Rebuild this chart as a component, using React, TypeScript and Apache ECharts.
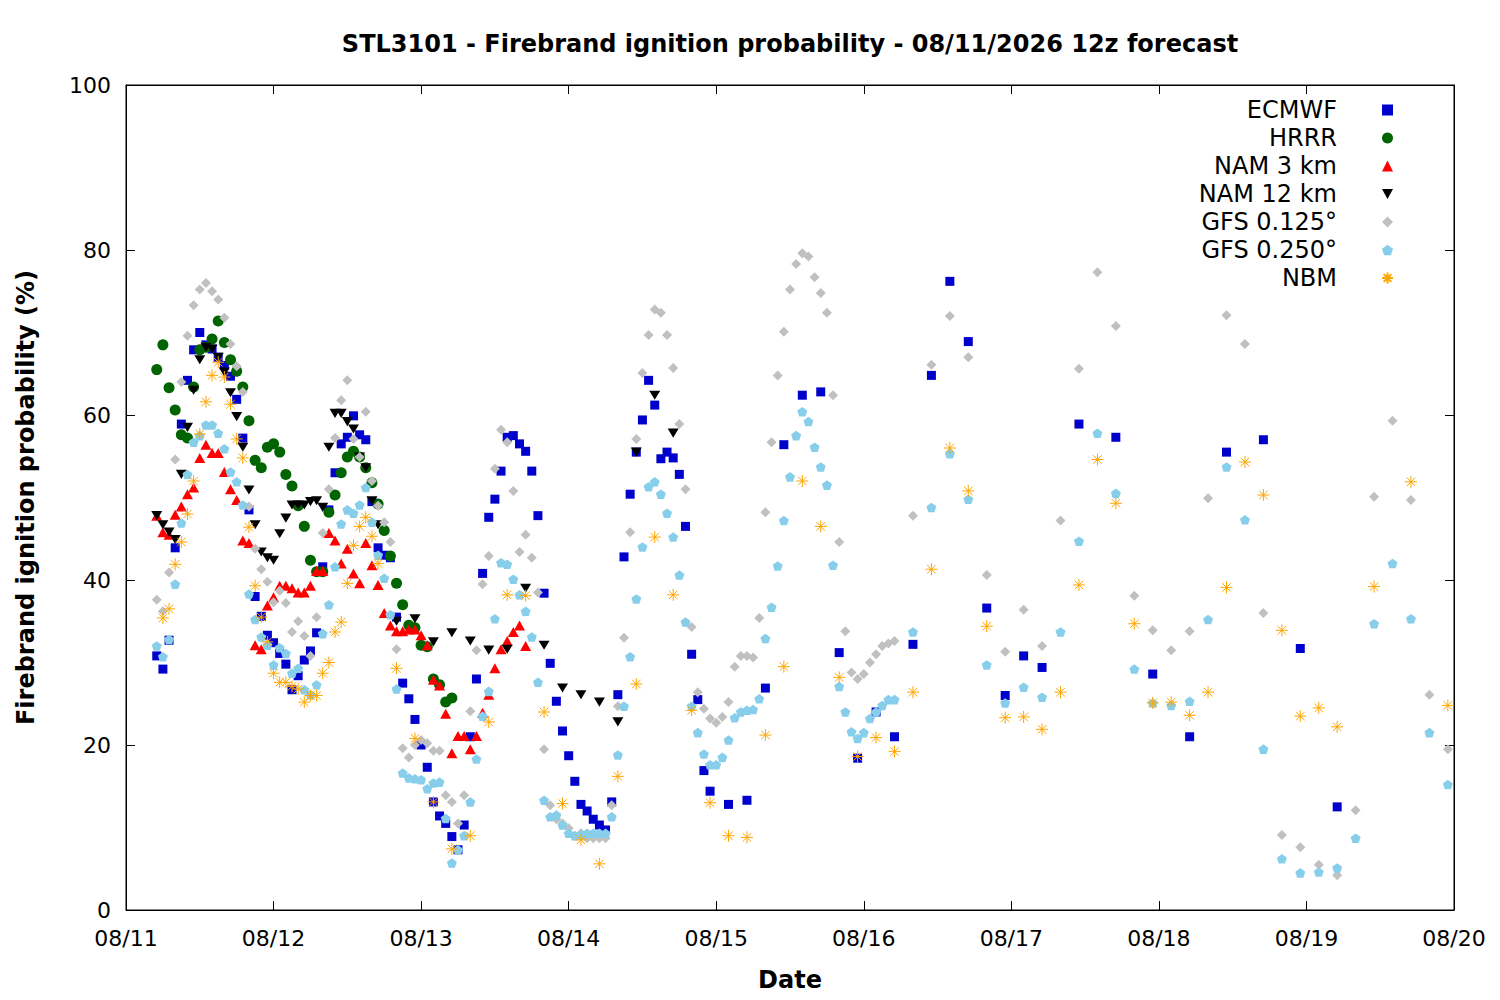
import React, { useEffect, useRef } from "react";
import * as echarts from "echarts";

// ---- axis labels ----
const DATE_LABELS = ["08/11", "08/12", "08/13", "08/14", "08/15", "08/16", "08/17", "08/18", "08/19", "08/20"];
const TITLE = "STL3101 - Firebrand ignition probability - 08/11/2026 12z forecast";
const Y_NAME = "Firebrand ignition probability (%)";
const X_NAME = "Date";

// ---- series data (hours since 08/11 00, probability %) ----
// ECMWF: hourly from h5, 3-hourly from h98, 6-hourly from h155
const ECMWF_1H_START = 5;
const ECMWF_1H = [30.8, 29.2, 32.7, 43.9, 58.9, 64.2, 67.9, 70.0, 68.5, 68.0, 67.0, 66.0, 64.7, 61.9, 57.2, 48.5, 38.0, 35.6, 33.3, 32.4, 31.1, 29.8, 26.7, 28.4, 30.3, 31.4, 33.6, 41.6, 48.5, 53.0, 56.5, 57.3, 59.9, 57.6, 57.0, 49.5, 43.9, 43.0, 42.7, 35.5, 27.5, 25.6, 23.1, 20.0, 17.3, 13.1, 11.4, 10.5, 8.9, 7.3, 10.3, 21.0, 28.0, 40.8, 47.6, 49.8, 53.2, 57.3, 57.5, 56.5, 55.6, 53.2, 47.8, 38.4, 29.9, 25.3, 21.7, 18.7, 15.6, 12.8, 12.0, 11.0, 10.3, 9.7, 13.1, 26.1, 42.8, 50.4, 55.5, 59.4, 64.2, 61.2, 54.7, 55.5, 54.8, 52.8, 46.5, 31.0, 25.5, 16.9, 14.4];
const ECMWF_3H_START = 98;
const ECMWF_3H = [12.8, 13.3, 26.9, 56.4, 62.4, 62.8, 31.2, 18.4, 24.0, 21.0, 32.2, 64.8, 76.2, 68.9, 36.6, 26.0, 30.8, 29.4];
const ECMWF_6H_START = 155;
const ECMWF_6H = [58.9, 57.3, 28.6, 21.0, 55.5, 57.0, 31.7, 12.5];

// HRRR: hourly from h5
const HRRR_1H_START = 5;
const HRRR_1H = [65.5, 68.5, 63.3, 60.6, 57.6, 57.2, 63.4, 67.9, 68.2, 69.2, 71.4, 68.8, 66.7, 65.3, 63.4, 59.3, 54.5, 53.6, 56.1, 56.5, 55.5, 52.8, 51.4, 49.0, 46.5, 42.4, 41.0, 41.0, 48.2, 50.3, 53.0, 54.9, 55.6, 54.9, 53.6, 51.8, 49.2, 46.0, 42.9, 39.6, 37.0, 34.5, 34.2, 32.1, 31.9, 28.0, 27.3, 25.2, 25.7];

// NAM 3 km: hourly from h5
const NAM3_1H_START = 5;
const NAM3_1H = [47.8, 45.8, 45.5, 47.9, 48.9, 50.4, 51.2, 54.8, 56.4, 55.4, 55.4, 53.1, 51.0, 49.7, 44.8, 44.5, 32.1, 31.6, 36.9, 37.9, 39.3, 39.3, 39.0, 38.5, 38.5, 39.3, 41.1, 41.1, 45.7, 44.8, 42.0, 43.8, 40.8, 39.6, 44.5, 41.8, 39.4, 36.0, 34.5, 33.8, 33.8, 34.0, 34.0, 33.3, 32.1, 27.9, 27.2, 23.8, 19.0, 21.1, 21.1, 19.5, 21.1, 23.9, 26.1, 29.3, 31.6, 32.6, 33.7, 34.5, 32.0];

// NAM 12 km: hourly from h5, 3-hourly from h44
const NAM12_1H_START = 5;
const NAM12_1H = [47.8, 46.7, 45.8, 44.9, 52.8, 58.5, 63.0, 66.7, 68.2, 68.0, 67.0, 65.2, 62.7, 59.8, 56.1, 50.9, 46.7, 43.4, 42.7, 42.4, 45.6, 47.5, 49.1, 49.1, 49.1, 49.5, 49.6, 48.8, 56.1, 60.2, 60.2, 59.2, 58.3, 54.9, 53.6, 49.6, 46.7];
const NAM12_3H_START = 44;
const NAM12_3H = [35.0, 35.3, 32.5, 33.6, 32.6, 31.5, 31.6, 39.0, 32.1, 26.9, 26.1, 25.2, 22.8, 55.5, 62.4, 57.8];

// GFS 0.125: hourly from h5, 3-hourly from h128
const GFS125_1H_START = 5;
const GFS125_1H = [37.6, 36.2, 40.9, 54.6, 64.0, 69.6, 73.3, 75.2, 76.0, 75.0,
  74.0, 71.8, 68.6, 65.9, 62.8, 48.9, 43.8, 41.3, 39.8, 37.3,
  38.7, 37.2, 33.7, 35.0, 33.2, 30.8, 35.5, 45.7, 51.0, 57.2,
  61.8, 64.2, 57.1, 54.9, 60.4, 52.0, 49.0, 47.0, 44.6, 31.6,
  19.6, 18.5, 20.0, 20.6, 20.2, 19.3, 19.3, 13.9, 13.1, 10.5,
  13.9, 24.1, 31.5, 39.5, 42.9, 53.5, 58.2, 56.7, 50.8, 43.4,
  45.5, 42.7, 38.5, 19.5, 12.7, 11.0, 10.5, 9.9, 9.0, 9.3,
  8.7, 8.7, 8.7, 8.7, 12.7, 24.7, 33.0, 45.8, 57.1, 65.1,
  69.7, 72.8, 72.4, 69.7, 65.7, 58.9, 51.0, 34.3, 26.4, 24.4,
  23.2, 22.7, 23.4, 25.2, 29.5, 30.8, 30.8, 30.6, 35.4, 48.2,
  56.7, 64.8, 70.1, 75.2, 78.3, 79.6, 79.2, 76.7, 74.8, 72.4,
  62.4, 44.6, 33.8, 28.8, 28.0, 28.6, 30.0, 31.0, 32.0, 32.3,
  32.6];
const GFS125_3H_START = 128;
const GFS125_3H = [47.8, 66.1, 72.0, 67.0, 40.6, 31.3, 36.4, 32.0, 47.2, 65.6, 77.3, 70.8, 38.1, 33.9, 31.5, 33.8, 49.9, 72.1, 68.6, 36.0, 9.1, 7.6, 5.5, 4.2, 12.1, 50.1, 59.3, 49.7, 26.1, 19.5];

// GFS 0.250: hourly from h5, 3-hourly from h128
const GFS250_1H_START = 5;
const GFS250_1H = [32.0, 30.7, 32.8, 39.5, 46.9, 52.8, 56.7, 57.5, 58.8, 58.8,
  57.8, 55.9, 53.1, 51.9, 49.1, 38.3, 35.2, 33.1, 32.1, 29.7,
  31.8, 31.1, 28.7, 29.3, 26.7, 26.1, 27.3, 33.5, 37.0, 41.6,
  46.8, 48.5, 48.1, 49.1, 51.2, 47.0, 43.0, 40.2, 35.8, 26.8,
  16.6, 16.0, 15.9, 15.8, 14.7, 15.4, 15.5, 11.1, 5.7, 7.3,
  9.0, 13.1, 18.3, 23.5, 26.5, 35.3, 42.1, 41.9, 40.1, 38.2,
  36.2, 33.1, 27.6, 13.3, 11.3, 11.5, 10.3, 9.3, 9.0, 9.1,
  9.3, 9.3, 9.3, 9.3, 11.3, 18.8, 24.7, 30.7, 37.7, 44.0,
  51.3, 51.9, 50.4, 48.1, 45.2, 40.6, 34.9, 24.7, 21.5, 18.9,
  17.6, 17.6, 18.5, 20.6, 23.3, 24.0, 24.2, 24.3, 25.6, 32.9,
  36.7, 41.7, 47.2, 52.5, 57.5, 60.4, 59.2, 56.1, 53.7, 51.5,
  41.8, 27.1, 24.0, 21.6, 20.8, 21.5, 23.2, 24.0, 24.8, 25.5,
  25.5];
const GFS250_3H_START = 128;
const GFS250_3H = [33.7, 48.8, 55.3, 49.8, 29.7, 25.1, 27.0, 25.8, 33.7, 44.7, 57.8, 50.5, 29.2, 25.1, 24.8, 25.3, 35.2, 53.7, 47.3, 19.5, 6.2, 4.5, 4.6, 5.1, 8.7, 34.7, 42.0, 35.3, 21.5, 15.2];

// NBM: hourly from h6, 3-hourly from h44, 6-hourly from h203
const NBM_1H_START = 6;
const NBM_1H = [35.4, 36.5, 41.9, 44.6, 48.0, 52.0, 57.7, 61.6, 64.8, 66.4, 64.6, 61.3, 57.1, 54.8, 46.4, 39.3, 35.5, 32.5, 28.7, 27.6, 27.6, 27.1, 26.8, 25.2, 26.0, 26.0, 28.7, 30.0, 33.7, 34.9, 39.6, 44.2, 46.5, 47.6, 45.3, 42.0];
const NBM_3H_START = 44;
const NBM_3H = [29.3, 20.8, 13.1, 7.4, 9.0, 22.8, 38.2, 38.1, 24.0, 12.9, 8.5, 5.6, 16.2, 27.4, 45.2, 38.2, 24.2, 13.0, 9.0, 8.8, 21.2, 29.5, 52.0, 46.5, 28.2, 18.6, 20.9, 19.2, 26.4, 41.3, 56.0, 50.8, 34.4, 23.3, 23.4, 21.9, 26.4, 39.4, 54.6, 49.3, 34.7, 25.1, 25.2, 23.6, 26.4, 39.1, 54.3, 50.3, 33.9, 23.5, 24.5, 22.2];
const NBM_6H_START = 203;
const NBM_6H = [39.2, 51.9, 24.8];

function seg(start: number, step: number, values: number[]): number[][] {
  return values.map((v, i) => [start + i * step, v]);
}

const PENTAGON = "path://M5,0L9.76,3.45L7.94,9.05L2.06,9.05L0.24,3.45Z";
const ASTERISK = "path://M6,0L6,12M0,6L12,6M1.76,1.76L10.24,10.24M1.76,10.24L10.24,1.76";
const DOWN_TRIANGLE = "path://M0,0L11,0L5.5,10Z";

const FONT = "DejaVu Sans";

export default function App() {
  const ref = useRef<HTMLDivElement>(null);
  useEffect(() => {
    if (!ref.current) return;
    const chart = echarts.init(ref.current, undefined, { renderer: "svg" });
    const common = { type: "scatter", xAxisIndex: 0, yAxisIndex: 0, silent: true };
    const series = [
      { ...common, name: "ECMWF", symbol: "rect", symbolSize: 9, itemStyle: { color: "#0000cd", opacity: 1 },
        data: [...seg(ECMWF_1H_START, 1, ECMWF_1H), ...seg(ECMWF_3H_START, 3, ECMWF_3H), ...seg(ECMWF_6H_START, 6, ECMWF_6H)] },
      { ...common, name: "HRRR", symbol: "circle", symbolSize: 11, itemStyle: { color: "#006400", opacity: 1 },
        data: seg(HRRR_1H_START, 1, HRRR_1H) },
      { ...common, name: "NAM 3 km", symbol: "triangle", symbolSize: [11, 10], itemStyle: { color: "#ff0000", opacity: 1 },
        data: seg(NAM3_1H_START, 1, NAM3_1H) },
      { ...common, name: "NAM 12 km", symbol: DOWN_TRIANGLE, symbolKeepAspect: true, symbolSize: [11, 10], itemStyle: { color: "#000000", opacity: 1 },
        data: [...seg(NAM12_1H_START, 1, NAM12_1H), ...seg(NAM12_3H_START, 3, NAM12_3H)] },
      { ...common, name: "GFS 0.125°", symbol: "diamond", symbolSize: 10, itemStyle: { color: "#c0c0c0", opacity: 1 },
        data: [...seg(GFS125_1H_START, 1, GFS125_1H), ...seg(GFS125_3H_START, 3, GFS125_3H)] },
      { ...common, name: "GFS 0.250°", symbol: PENTAGON, symbolKeepAspect: true, symbolSize: 10, itemStyle: { color: "#87ceeb", opacity: 1 },
        data: [...seg(GFS250_1H_START, 1, GFS250_1H), ...seg(GFS250_3H_START, 3, GFS250_3H)] },
      { ...common, name: "NBM", symbol: ASTERISK, symbolKeepAspect: true, symbolSize: 12,
        itemStyle: { color: "#ffa500", borderColor: "#ffa500", borderWidth: 1, opacity: 1 },
        data: [...seg(NBM_1H_START, 1, NBM_1H), ...seg(NBM_3H_START, 3, NBM_3H), ...seg(NBM_6H_START, 6, NBM_6H)] },
    ];
    const tick = { show: true, inside: true, length: 9, lineStyle: { color: "#000", width: 1 } };
    const axisLine = { show: true, onZero: false, lineStyle: { color: "#000", width: 1 } };
    const boldName = { color: "#000", fontSize: 24, fontWeight: "bold", fontFamily: FONT };
    chart.setOption({
      animation: false,
      backgroundColor: "#fff",
      textStyle: { fontFamily: FONT },
      grid: { left: 126, right: 46, top: 85, bottom: 90, show: true, borderColor: "#000", borderWidth: 1, backgroundColor: "transparent" },
      legend: {
        orient: "vertical", align: "right", right: 101, top: 93,
        itemWidth: 11, itemHeight: 11, itemGap: 4,
        textStyle: { fontSize: 24, fontFamily: FONT, color: "#000", lineHeight: 24, padding: [0, 40, 0, 0] },
        data: series.map((s) => s.name),
        selectedMode: false,
      },
      xAxis: [
        {
          type: "value", min: 0, max: 216, interval: 24, position: "bottom",
          axisLine, axisTick: tick, splitLine: { show: false },
          axisLabel: { color: "#000", fontSize: 22, fontFamily: FONT, margin: 17, showMinLabel: true, showMaxLabel: true,
            formatter: (v: number) => DATE_LABELS[Math.round(v / 24)] ?? "" },
          name: X_NAME, nameLocation: "middle", nameGap: 58, nameTextStyle: boldName,
        },
        {
          type: "value", min: 0, max: 216, interval: 24, position: "top",
          axisLine, axisTick: tick, splitLine: { show: false }, axisLabel: { show: false },
          name: TITLE, nameLocation: "middle", nameGap: 29, nameTextStyle: boldName,
        },
      ],
      yAxis: [
        {
          type: "value", min: 0, max: 100, interval: 20, position: "left",
          axisLine, axisTick: tick, splitLine: { show: false },
          axisLabel: { color: "#000", fontSize: 22, fontFamily: FONT, margin: 15 },
          name: Y_NAME, nameLocation: "middle", nameGap: 88, nameRotate: 90, nameTextStyle: boldName,
        },
        {
          type: "value", min: 0, max: 100, interval: 20, position: "right",
          axisLine, axisTick: tick, splitLine: { show: false }, axisLabel: { show: false },
        },
      ],
      series,
    });
    return () => chart.dispose();
  }, []);
  return <div ref={ref} style={{ position: "fixed", left: 0, top: 0, width: 1500, height: 1000 }} />;
}
